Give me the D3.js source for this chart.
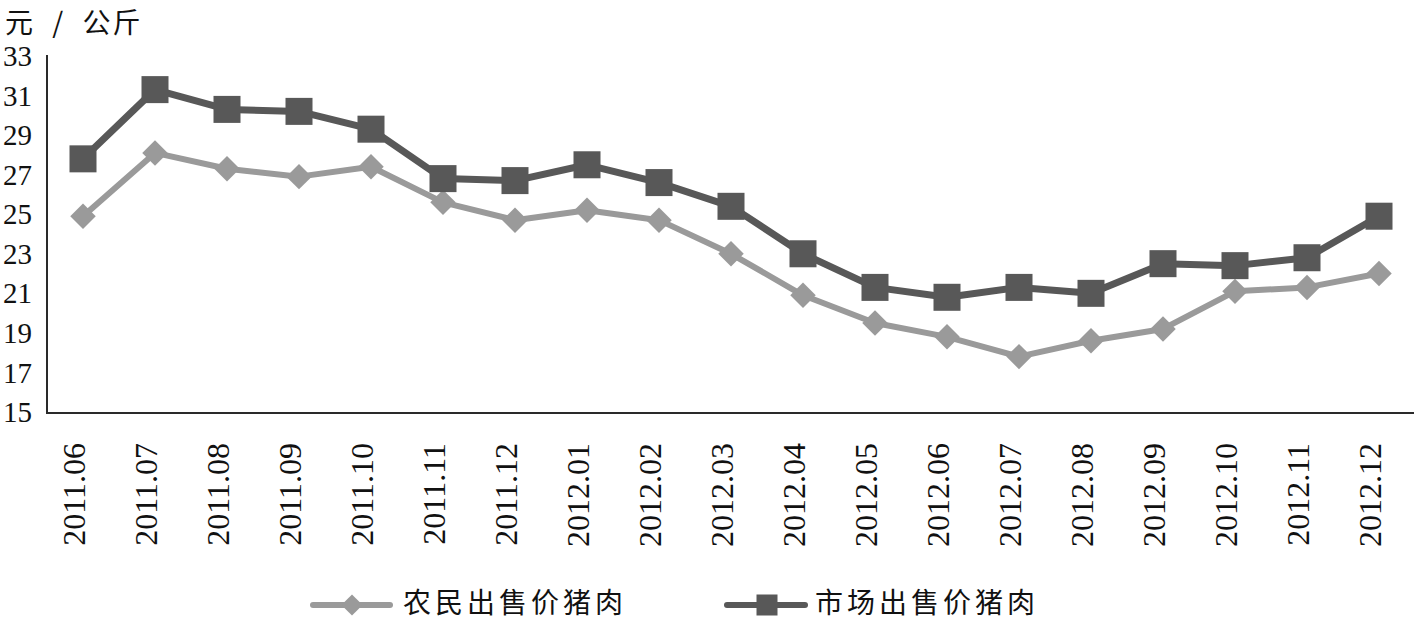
<!DOCTYPE html>
<html><head><meta charset="utf-8">
<script src="https://cdn.jsdelivr.net/npm/d3@7"></script>
<style>
html,body{margin:0;padding:0;background:#fff;}
svg{display:block;}
</style></head>
<body>
<svg id="c" width="1414" height="622"></svg>
<script>
const categories = ["2011.06","2011.07","2011.08","2011.09","2011.10","2011.11","2011.12","2012.01","2012.02","2012.03","2012.04","2012.05","2012.06","2012.07","2012.08","2012.09","2012.10","2012.11","2012.12"];
const farmerPrice = [24.9,28.1,27.3,26.9,27.4,25.6,24.7,25.2,24.7,23.0,20.9,19.5,18.8,17.8,18.6,19.2,21.1,21.3,22.0];
const marketPrice = [27.8,31.3,30.3,30.2,29.3,26.8,26.7,27.5,26.6,25.4,23.0,21.3,20.8,21.3,21.0,22.5,22.4,22.8,24.9];
const seriesNames = ["农民出售价猪肉","市场出售价猪肉"];
const yTicks = [15,17,19,21,23,25,27,29,31,33];
const unitLabel = "元 / 公斤";

const svg = d3.select("#c");
const numFont = "'Liberation Serif','Times New Roman',serif";
const cjkFont = "'Noto Sans CJK SC','Noto Sans',sans-serif";
const dark = "#585858", light = "#9a9a9a";

const x = d3.scaleBand().domain(categories).range([47,1415]).padding(0);
const y = d3.scaleLinear().domain([15,33]).range([412,56]);
const cx = d => x(d) + x.bandwidth()/2;

// axes lines
svg.append("line").attr("x1",47).attr("x2",47).attr("y1",55).attr("y2",413)
  .attr("stroke","#2a2a2a").attr("stroke-width",2);
svg.append("line").attr("x1",46).attr("x2",1414).attr("y1",413).attr("y2",413)
  .attr("stroke","#2a2a2a").attr("stroke-width",2);

// y labels
svg.append("g").selectAll("text").data(yTicks).join("text")
  .attr("x",32).attr("y",d=>y(d)).attr("dy","0.35em")
  .attr("text-anchor","end").attr("font-family",numFont).attr("font-size",29)
  .attr("fill","#111").text(d=>d);

// x labels
svg.append("g").selectAll("text").data(categories).join("text")
  .attr("transform",d=>`translate(${cx(d)+2},443) rotate(-90)`)
  .attr("text-anchor","end").attr("font-family",numFont).attr("font-size",32)
  .attr("fill","#111").text(d=>d);

// unit label
svg.append("text").attr("x",5).attr("y",33).attr("font-family",cjkFont)
  .attr("font-size",28).attr("word-spacing",9).attr("letter-spacing",2).attr("fill","#111")
  .text(unitLabel);

const line = d3.line().x((d,i)=>cx(categories[i])).y(d=>y(d));

// farmer series
svg.append("path").datum(farmerPrice).attr("d",line).attr("fill","none")
  .attr("stroke",light).attr("stroke-width",6).attr("stroke-linejoin","round");
const diamond = d3.symbol().type(d3.symbolSquare).size(18*18);
svg.append("g").selectAll("path").data(farmerPrice).join("path")
  .attr("d",diamond).attr("fill",light)
  .attr("transform",(d,i)=>`translate(${cx(categories[i])},${y(d)}) rotate(45)`);

// market series
svg.append("path").datum(marketPrice).attr("d",line).attr("fill","none")
  .attr("stroke",dark).attr("stroke-width",7).attr("stroke-linejoin","round");
svg.append("g").selectAll("rect").data(marketPrice).join("rect")
  .attr("x",(d,i)=>cx(categories[i])-13.5).attr("y",d=>y(d)-13.5)
  .attr("width",27).attr("height",27).attr("fill",dark);

// legend
const ly = 605;
const lg1 = svg.append("g");
lg1.append("line").attr("x1",313).attr("x2",390).attr("y1",ly).attr("y2",ly)
  .attr("stroke",light).attr("stroke-width",6).attr("stroke-linecap","round");
lg1.append("path").attr("d",d3.symbol().type(d3.symbolSquare).size(15*15)())
  .attr("fill",light).attr("transform",`translate(352,${ly}) rotate(45)`);
lg1.append("text").attr("x",403).attr("y",613).attr("font-family",cjkFont)
  .attr("font-size",28).attr("letter-spacing",4).attr("fill","#111").text(seriesNames[0]);

const lg2 = svg.append("g");
lg2.append("line").attr("x1",727).attr("x2",805).attr("y1",ly).attr("y2",ly)
  .attr("stroke",dark).attr("stroke-width",6).attr("stroke-linecap","round");
lg2.append("rect").attr("x",767-10.5).attr("y",ly-10.5).attr("width",21).attr("height",21).attr("fill",dark);
lg2.append("text").attr("x",815).attr("y",613).attr("font-family",cjkFont)
  .attr("font-size",28).attr("letter-spacing",4).attr("fill","#111").text(seriesNames[1]);
</script>
</body></html>
